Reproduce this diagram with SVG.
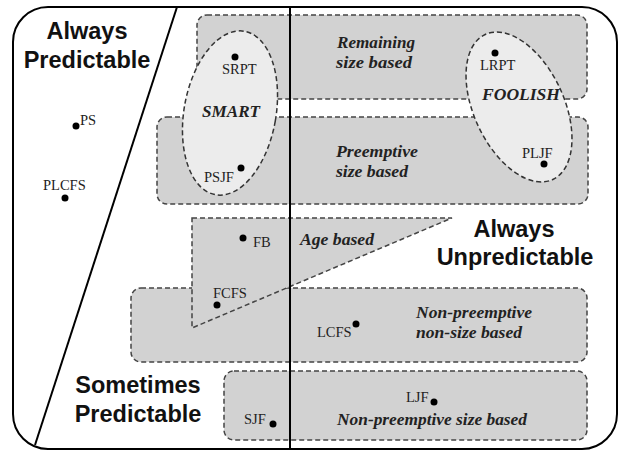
<svg xmlns="http://www.w3.org/2000/svg" width="632" height="452" viewBox="0 0 632 452">
<style>
.box{fill:#d2d2d2;stroke:#444;stroke-width:1.5;stroke-dasharray:5 3}
.ell{fill:#ececec;stroke:#333;stroke-width:1.5;stroke-dasharray:5 3}
.line{fill:none;stroke:#000;stroke-width:2}
.big{font-family:"Liberation Sans",Arial,sans-serif;font-weight:bold;font-size:23.5px;fill:#111;text-anchor:middle}
.lbl{font-family:"Liberation Serif","Times New Roman",serif;font-size:14.5px;fill:#222}
.cat{font-family:"Liberation Serif","Times New Roman",serif;font-size:16px;font-weight:bold;font-style:italic;fill:#222}
.dot{fill:#000}
</style>
<rect x="0" y="0" width="632" height="452" fill="#fff"/>
<g id="regions">
<g id="remaining-size"><rect class="box" x="197" y="15" width="390" height="84" rx="10"/></g>
<g id="preemptive-size"><rect class="box" x="157" y="117" width="431" height="87" rx="10"/></g>
<g id="nonpreemptive-nonsize"><rect class="box" x="131" y="288" width="456" height="74" rx="10"/></g>
<g id="age-based"><polygon class="box" points="192,218 452,218 192,328"/></g>
<g id="nonpreemptive-size"><rect class="box" x="224" y="371" width="363" height="69" rx="10"/></g>
<g id="smart"><ellipse class="ell" cx="230" cy="113" rx="46" ry="83" transform="rotate(10 230 113)"/></g>
<g id="foolish"><ellipse class="ell" cx="519" cy="107" rx="45" ry="80" transform="rotate(-25 519 107)"/></g>
</g>
<g id="connectors">
<rect class="line" x="13" y="7" width="604" height="442" rx="35" stroke-width="2.5"/>
<line class="line" x1="177" y1="7" x2="35" y2="445"/>
<line class="line" x1="290" y1="7" x2="290" y2="449"/>
</g>
<g id="titles">
<text class="big" x="87" y="39">Always</text>
<text class="big" x="87" y="68">Predictable</text>
<text class="big" x="514" y="237">Always</text>
<text class="big" x="515" y="265">Unpredictable</text>
<text class="big" x="138" y="393">Sometimes</text>
<text class="big" x="138" y="422">Predictable</text>
</g>
<g id="categories">
<text class="cat" x="337" y="48" textLength="78" lengthAdjust="spacingAndGlyphs">Remaining</text>
<text class="cat" x="336" y="68" textLength="76" lengthAdjust="spacingAndGlyphs">size  based</text>
<text class="cat" x="336" y="157" textLength="82" lengthAdjust="spacingAndGlyphs">Preemptive</text>
<text class="cat" x="336" y="177" textLength="72" lengthAdjust="spacingAndGlyphs">size based</text>
<text class="cat" x="300" y="245" textLength="74" lengthAdjust="spacingAndGlyphs">Age based</text>
<text class="cat" x="416" y="318" textLength="116" lengthAdjust="spacingAndGlyphs">Non-preemptive</text>
<text class="cat" x="416" y="338" textLength="106" lengthAdjust="spacingAndGlyphs">non-size based</text>
<text class="cat" x="337" y="425" textLength="190" lengthAdjust="spacingAndGlyphs">Non-preemptive size based</text>
<text class="cat" x="202" y="117" font-size="17" textLength="58" lengthAdjust="spacingAndGlyphs">SMART</text>
<text class="cat" x="482" y="100" font-size="17" textLength="78" lengthAdjust="spacingAndGlyphs">FOOLISH</text>
</g>
<g id="policies">
<g id="ps"><circle class="dot" cx="76" cy="126" r="3.5"/><text class="lbl" x="80" y="125">PS</text></g>
<g id="plcfs"><circle class="dot" cx="65" cy="198" r="3.5"/><text class="lbl" x="43" y="190">PLCFS</text></g>
<g id="srpt"><circle class="dot" cx="235" cy="57" r="3.5"/><text class="lbl" x="222" y="74">SRPT</text></g>
<g id="psjf"><circle class="dot" cx="241" cy="168" r="3.5"/><text class="lbl" x="204" y="182">PSJF</text></g>
<g id="lrpt"><circle class="dot" cx="495" cy="53" r="3.5"/><text class="lbl" x="480" y="70">LRPT</text></g>
<g id="pljf"><circle class="dot" cx="544" cy="164" r="3.5"/><text class="lbl" x="522" y="158">PLJF</text></g>
<g id="fb"><circle class="dot" cx="243" cy="238" r="3.5"/><text class="lbl" x="253" y="247">FB</text></g>
<g id="fcfs"><circle class="dot" cx="217" cy="305" r="3.5"/><text class="lbl" x="213" y="298">FCFS</text></g>
<g id="lcfs"><circle class="dot" cx="356" cy="324" r="3.5"/><text class="lbl" x="317" y="337">LCFS</text></g>
<g id="ljf"><circle class="dot" cx="434" cy="402" r="3.5"/><text class="lbl" x="406" y="402">LJF</text></g>
<g id="sjf"><circle class="dot" cx="273" cy="424" r="3.5"/><text class="lbl" x="244" y="424">SJF</text></g>
</g>
</svg>
